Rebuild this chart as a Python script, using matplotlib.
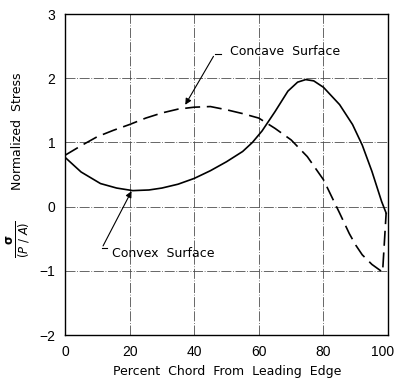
import matplotlib
matplotlib.use("Agg")
import matplotlib.pyplot as plt
from matplotlib.transforms import ScaledTranslation

plt.rcParams['font.family'] = ['DejaVu Sans']

# convex surface (solid)
convex_x = [0, 5, 11, 16, 21, 26, 30, 35, 40, 45, 50, 55, 58, 61, 65, 69, 72, 74.5,
            77, 80, 85, 89, 92, 95, 98, 99.4]
convex_y = [0.77, 0.54, 0.36, 0.29, 0.25, 0.26, 0.29, 0.35, 0.44, 0.56, 0.70, 0.86,
            1.0, 1.18, 1.48, 1.8, 1.94, 1.98, 1.96, 1.86, 1.59, 1.28, 0.96, 0.55, 0.08, -0.1]

# concave surface (dashed)
concave_x = [0, 5, 10, 15, 20, 25, 30, 35, 40, 45, 50, 55, 60, 65, 70, 75, 80, 85,
             88, 90, 92, 95, 98.3, 99.4]
concave_y = [0.8, 0.95, 1.09, 1.19, 1.28, 1.38, 1.46, 1.52, 1.55, 1.56, 1.51, 1.45,
             1.38, 1.22, 1.04, 0.78, 0.42, -0.1, -0.42, -0.6, -0.75, -0.9, -1.02, -0.1]

xticks = [0, 20, 40, 60, 80, 100]
yticks = [-2, -1, 0, 1, 2, 3]

fig = plt.figure(figsize=(3.96, 3.82), dpi=100)
ax = fig.add_axes([0.164, 0.123, 0.816, 0.840])

ax.plot(convex_x, convex_y, color='black', lw=1.2)
ax.plot(concave_x, concave_y, color='black', lw=1.2, dashes=(9, 4))

ax.set_xlim(0, 100)
ax.set_ylim(-2, 3)
ax.set_xticks(xticks)
ax.set_yticks(yticks)
ax.tick_params(length=0, labelsize=10, pad=7)
for lbl in ax.get_xticklabels() + ax.get_yticklabels():
    lbl.set_family('Liberation Sans')
# keep "100" inside the canvas
last = ax.get_xticklabels()[-1]
last.set_transform(last.get_transform() + ScaledTranslation(-4 / 72, 0, fig.dpi_scale_trans))
ax.grid(True, color='0.3', lw=0.6, linestyle=(0, (12, 2, 1, 2)))
for s in ax.spines.values():
    s.set_linewidth(1.0)

# leader arrows
ax.annotate('', xy=(36.8, 1.55), xytext=(46.4, 2.38),
            arrowprops=dict(arrowstyle='-|>', color='black', lw=0.8, mutation_scale=9))
ax.plot([46.4, 48.3], [2.38, 2.38], color='black', lw=0.8)
ax.text(51.1, 2.41, 'Concave  Surface', fontsize=9, va='center', ha='left')

ax.annotate('', xy=(21, 0.28), xytext=(11.4, -0.65),
            arrowprops=dict(arrowstyle='-|>', color='black', lw=0.8, mutation_scale=9))
ax.plot([11.4, 13.0], [-0.65, -0.65], color='black', lw=0.8)
ax.text(14.6, -0.73, 'Convex  Surface', fontsize=9, va='center', ha='left')

fig.text(0.573, 0.027, 'Percent  Chord  From  Leading  Edge', fontsize=9,
         ha='center', va='center')
fig.text(0.045, 0.657, 'Normalized  Stress', fontsize=9, rotation=90,
         ha='center', va='center')
fig.text(0.045, 0.374, r'$\frac{\mathbf{\sigma}}{(P\ /\ A)}$', fontsize=12, rotation=90,
         ha='center', va='center')

fig.savefig('out.png', dpi=100)
